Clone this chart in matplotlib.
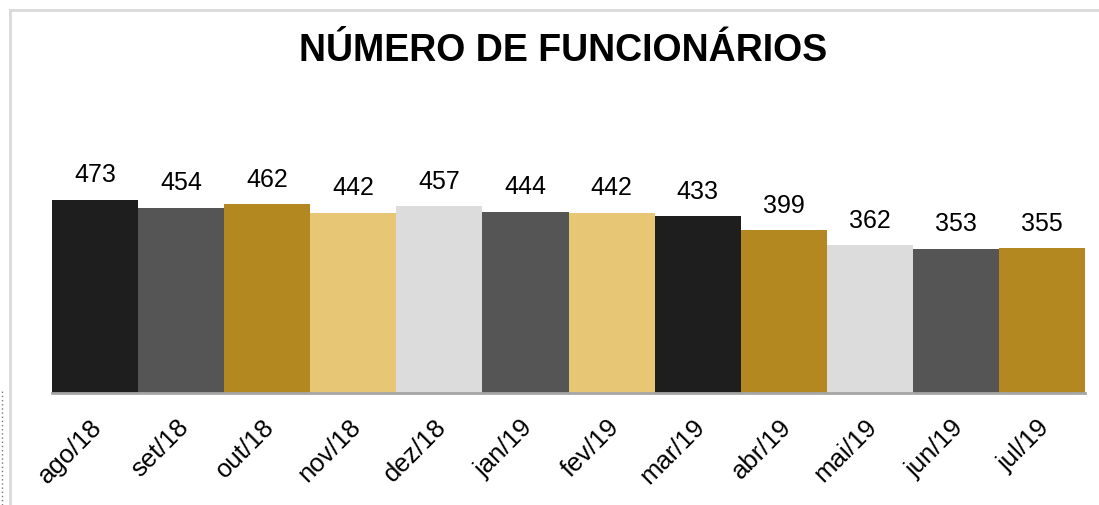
"""Número de funcionários — monthly headcount bar chart."""
import matplotlib
matplotlib.use("Agg")
import matplotlib.pyplot as plt
from matplotlib.lines import Line2D
import matplotlib.transforms as mtransforms

plt.rcParams["font.family"] = ["Liberation Sans", "DejaVu Sans"]

MONTHS = ["ago/18", "set/18", "out/18", "nov/18", "dez/18", "jan/19",
          "fev/19", "mar/19", "abr/19", "mai/19", "jun/19", "jul/19"]
HEADCOUNT = [473, 454, 462, 442, 457, 444, 442, 433, 399, 362, 353, 355]

DARK = "#1e1e1e"
GRAY = "#555555"
GOLD = "#b38821"
LIGHT_GOLD = "#e7c676"
LIGHT_GRAY = "#dcdcdc"
BAR_COLORS = [DARK, GRAY, GOLD, LIGHT_GOLD, LIGHT_GRAY, GRAY,
              LIGHT_GOLD, DARK, GOLD, LIGHT_GRAY, GRAY, GOLD]

W, H = 1099, 505
fig = plt.figure(figsize=(W / 100, H / 100), dpi=100)
ax = fig.add_axes([52 / W, (H - 393) / H, (1085 - 52) / W, 245 / H])

x = list(range(len(MONTHS)))
ax.bar(x, HEADCOUNT, width=1.0, color=BAR_COLORS, linewidth=0, zorder=2)
ax.set_xlim(-0.5, len(MONTHS) - 0.5)
ax.set_ylim(0, 600)

for xi, v in zip(x, HEADCOUNT):
    ax.annotate(str(v), (xi, v), xytext=(0, 12.5), textcoords="offset points",
                ha="center", va="baseline", fontsize=18, color="#000000")

# axes cosmetics: only a grey baseline
for side in ("left", "right", "top"):
    ax.spines[side].set_visible(False)
ax.spines["bottom"].set_color("#a6a6a6")
ax.spines["bottom"].set_linewidth(2)
ax.set_yticks([])
ax.set_xticks(x)
ax.set_xticklabels(MONTHS, rotation=45, ha="right", rotation_mode="anchor",
                   fontsize=18.5)
ax.tick_params(axis="x", length=0, pad=16)
shift = mtransforms.ScaledTranslation(-5 / 100, 0, fig.dpi_scale_trans)
for lbl in ax.get_xticklabels():
    lbl.set_transform(lbl.get_transform() + shift)

fig.text(563 / W, 1 - 51 / H, "NÚMERO DE FUNCIONÁRIOS", ha="center",
         va="center", fontsize=27, fontweight="bold", color="#000000")

# chart frame (light grey) and dotted guide on the left
fig.add_artist(Line2D([10 / W, 1], [1 - 10 / H, 1 - 10 / H],
                      transform=fig.transFigure, color="#d9d9d9", lw=2))
fig.add_artist(Line2D([10 / W, 10 / W], [0, 1 - 10 / H],
                      transform=fig.transFigure, color="#d9d9d9", lw=2))
fig.add_artist(Line2D([2 / W, 2 / W], [0, 1 - 390 / H],
                      transform=fig.transFigure, color="#777777", lw=1,
                      linestyle=(0, (1, 2))))

fig.savefig("out.png", dpi=100)
